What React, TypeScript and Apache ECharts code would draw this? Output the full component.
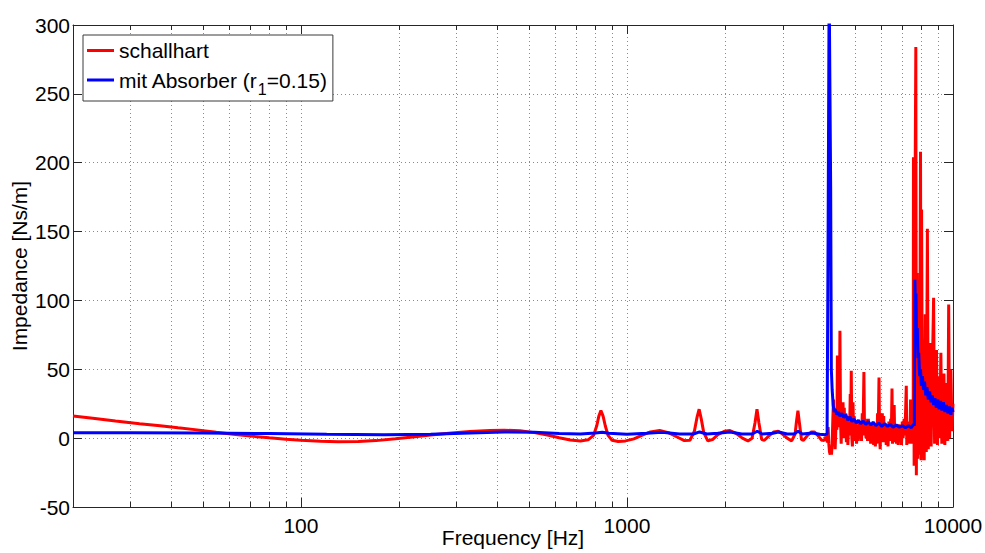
import React, { useEffect, useRef } from "react";
import * as echarts from "echarts";

// ---------- data (frequency in Hz, impedance in Ns/m) ----------
const redLow: [number, number][] = [
  [20, 16], [23, 14.5], [27, 12.5], [32, 10.5], [37, 9], [42, 7.5], [48, 6], [55, 4.2], [62, 2.8], [70, 1.5],
  [80, 0.2], [90, -0.8], [100, -1.5], [115, -2.2], [130, -2.6], [150, -2.5], [170, -1.8], [195, -0.5], [220, 0.8],
  [250, 2.3], [290, 3.8], [330, 4.8], [380, 5.5], [420, 5.8], [470, 5.3], [520, 4], [570, 2.3], [620, 0.3],
  [670, -1.3], [720, -2], [760, -1.2], [790, 2], [808, 9], [820, 16], [832, 20], [845, 16], [858, 9], [875, 2],
  [900, -1.5], [940, -2.5], [990, -2], [1050, -0.5], [1110, 2], [1180, 4.5], [1260, 5.5], [1340, 4], [1420, 1],
  [1500, -1.8], [1560, -1.5], [1610, 5], [1640, 15], [1665, 21], [1690, 14], [1720, 4], [1770, -2], [1830, -1],
  [1900, 2.5], [1990, 5], [2070, 5.5], [2160, 3.5], [2260, 0], [2350, -2], [2420, 0], [2470, 11], [2505, 21],
  [2540, 11], [2590, -1], [2640, -1.5], [2720, 1.5], [2820, 4.5], [2910, 5], [3000, 3], [3100, 0], [3200, -2],
  [3280, 3], [3310, 12], [3345, 20], [3380, 11], [3430, -1], [3480, -1.5], [3580, 2], [3680, 4.5], [3760, 4.5],
  [3850, 2], [3950, -1.5], [4030, -1.5], [4080, 1],
];
const redMid: [number, number][] = [
  [4120, -3], [4140, 8], [4160, -4], [4180, -10], [4200, -12], [4220, -6], [4240, -12], [4260, -4], [4280, 14],
  [4300, 28], [4315, 2], [4330, 15], [4350, -8], [4370, 5], [4390, 22], [4405, 6], [4420, 60], [4440, 10],
  [4460, 30], [4480, 8], [4500, 78], [4520, 12], [4540, -4], [4560, 20], [4580, 0], [4600, 26], [4620, 4],
  [4640, 22], [4660, 0], [4690, 18], [4710, -3], [4730, 12], [4760, -5], [4790, 16], [4815, 2], [4840, 32],
  [4860, 10], [4875, 49], [4895, 0], [4915, -6], [4935, 26], [4955, 5], [4975, 16], [5000, -2], [5030, 12],
  [5060, -4], [5090, 8], [5120, -2], [5150, 12], [5180, 0], [5210, 6], [5240, -2], [5270, 18], [5300, 6],
  [5330, 48], [5355, 2], [5380, 14], [5410, 0], [5440, 10], [5470, -2], [5500, 14], [5530, 2], [5560, 10],
  [5590, -4], [5620, 8], [5650, -2], [5680, 12], [5710, -5], [5745, 6], [5780, -6], [5810, 10], [5840, -4],
  [5870, 18], [5900, 8], [5930, 44], [5955, 0], [5980, -8], [6010, 12], [6040, -3], [6070, 18], [6100, 2],
  [6130, 16], [6160, -3], [6200, 10], [6240, -5], [6280, 8], [6320, -6], [6360, 12], [6400, -2], [6440, 14],
  [6470, 4], [6500, 36], [6525, -4], [6560, 12], [6600, 24], [6630, -3], [6670, 10], [6710, -4], [6750, 8],
  [6790, -5], [6830, 10], [6870, -3], [6910, 8], [6950, -5], [6990, 12], [7030, 0], [7080, 14], [7120, 2],
  [7160, 22], [7190, 38], [7215, -5], [7250, 12], [7290, -3], [7330, 10], [7370, -4], [7410, 28], [7440, 2],
  [7470, 20], [7500, -4], [7530, 26], [7550, 5],
];
const redHigh: [number, number][] = [
  [7564, 204], [7600, -20], [7640, 150], [7691, 284], [7720, -27], [7760, 120], [7800, -15], [7850, 90],
  [7900, -12], [7950, 208], [7985, -16], [8010, 166], [8060, -14], [8110, 70], [8160, -16], [8220, 90],
  [8280, -10], [8345, 152], [8400, -8], [8450, 50], [8520, 69], [8570, -6], [8630, 40], [8720, 102], [8780, -4],
  [8840, 35], [8900, 64], [8960, -5], [9030, 45], [9100, 0], [9180, 62], [9240, -4], [9300, 30], [9380, 47],
  [9440, -5], [9520, 40], [9580, 20], [9640, -2], [9700, 97], [9760, 0], [9850, 50], [9930, 5], [10000, 25],
];

const blueLow: [number, number][] = [
  [20, 4], [30, 3.9], [50, 3.7], [80, 3.3], [120, 2.8], [180, 2.5], [250, 2.8], [330, 3.8], [420, 4.5],
  [520, 4.2], [620, 3.3], [720, 3], [800, 3.8], [840, 4.3], [880, 3.5], [1000, 2.8], [1150, 3.5], [1280, 4.2],
  [1450, 3], [1600, 3], [1670, 4.5], [1760, 3], [1900, 3.5], [2070, 4.5], [2250, 3], [2420, 3], [2510, 5],
  [2600, 3], [2800, 3.5], [2920, 4.5], [3100, 3], [3250, 3], [3350, 5], [3450, 3], [3700, 3.8], [3900, 2.8],
  [4050, 2.5], [4110, 3],
];
const blueMid: [number, number][] = [
  [4140, 152], [4170, 330], [4215, 182], [4235, 50], [4260, 35], [4290, 24], [4320, 19], [4360, 21], [4400, 17],
  [4450, 19], [4500, 16], [4560, 18], [4620, 15], [4690, 17], [4760, 13], [4830, 15.5], [4900, 12], [4970, 14],
  [5050, 11], [5130, 13], [5210, 10.5], [5300, 12.5], [5400, 10], [5500, 12], [5600, 9.5], [5700, 11.5],
  [5800, 9], [5920, 11], [6050, 8.5], [6170, 10.5], [6300, 8.5], [6420, 10], [6550, 8], [6700, 9.5], [6850, 8],
  [7000, 9], [7150, 7.5], [7300, 9], [7450, 7.5], [7560, 10], [7610, 9],
];
const blueHigh: [number, number][] = [
  [7640, 115], [7670, 95], [7700, 105], [7730, 75], [7770, 80], [7810, 58], [7850, 62], [7900, 45], [7950, 50],
  [8000, 38], [8060, 45], [8120, 35], [8180, 41], [8250, 31], [8320, 37], [8400, 28], [8480, 34], [8560, 26],
  [8640, 31], [8720, 24], [8800, 29], [8890, 22], [8980, 28], [9070, 21], [9160, 27], [9250, 20], [9350, 26],
  [9450, 19], [9550, 24], [9650, 18], [9750, 23], [9850, 17], [9930, 22], [10000, 19],
];

const minorFreqs: number[] = [
  30, 40, 50, 60, 70, 80, 90,
  200, 300, 400, 500, 600, 700, 800, 900,
  2000, 3000, 4000, 5000, 6000, 7000, 8000, 9000,
];
const xTickLabels: number[] = [100, 1000, 10000];

const RED_NAME = "schallhart";
const BLUE_NAME = "mit Absorber (r1=0.15)";
const FONT = "Liberation Sans, Arial, Helvetica, sans-serif";
const FS = 21;
const FRAME = "#262626";
const GRID = "#8a8a8a";

export default function App() {
  const ref = useRef<HTMLDivElement>(null);

  useEffect(() => {
    if (!ref.current) return;
    const chart = echarts.init(ref.current, undefined, { renderer: "svg" });

    const redData = [...redLow, ...redMid, ...redHigh];
    const blueData = [...blueLow, ...blueMid, ...blueHigh];

    const isMajorLabel = (v: number) =>
      xTickLabels.some((t) => Math.abs(Math.log10(v) - Math.log10(t)) < 1e-6);

    chart.setOption({
      animation: false,
      backgroundColor: "#ffffff",
      textStyle: { fontFamily: FONT },
      grid: { left: 73, right: 32, top: 25, bottom: 46, containLabel: false, outerBoundsMode: "none" },
      legend: {
        data: [RED_NAME, BLUE_NAME],
        orient: "vertical",
        left: 83,
        top: 35,
        padding: [4, 6, 4, 4],
        itemGap: 1,
        itemWidth: 27,
        itemHeight: 3,
        icon: "rect",
        backgroundColor: "#ffffff",
        borderColor: "#3a3a3a",
        borderWidth: 1,
        borderRadius: 0,
        selectedMode: false,
        formatter: (name: string) => (name === BLUE_NAME ? "mit Absorber (r{sub|1}=0.15)" : name),
        textStyle: {
          fontFamily: FONT,
          fontSize: FS,
          lineHeight: 23,
          color: "#000",
          rich: {
            sub: { fontFamily: FONT, fontSize: 16, lineHeight: 16, padding: [18, 0, 0, 0], color: "#000" },
          },
        },
      },
      xAxis: [
        {
          type: "log",
          logBase: 10,
          min: 20,
          max: 10000,
          position: "bottom",
          name: "Frequency [Hz]",
          nameLocation: "middle",
          nameGap: 20,
          nameMoveOverlap: false,
          nameTextStyle: { fontFamily: FONT, fontSize: FS, color: "#000" },
          axisLine: { onZero: false, lineStyle: { color: FRAME, width: 1 } },
          axisTick: { inside: true, length: 9, lineStyle: { color: FRAME } },
          axisLabel: {
            fontFamily: FONT,
            fontSize: FS,
            color: "#000",
            margin: 8,
            showMinLabel: false,
            formatter: (v: number) => (isMajorLabel(v) ? String(Math.round(v)) : ""),
          },
          splitLine: { show: true, lineStyle: { color: GRID, type: [1, 3], width: 1 } },
          minorTick: { show: false },
        },
        {
          type: "log",
          logBase: 10,
          min: 20,
          max: 10000,
          position: "top",
          axisLine: { onZero: false, lineStyle: { color: FRAME, width: 1 } },
          axisTick: { inside: true, length: 9, lineStyle: { color: FRAME } },
          axisLabel: { show: false },
          splitLine: { show: false },
        },
      ],
      yAxis: [
        {
          type: "value",
          min: -50,
          max: 300,
          interval: 50,
          position: "left",
          name: "Impedance [Ns/m]",
          nameLocation: "middle",
          nameGap: 43,
          nameMoveOverlap: false,
          nameTextStyle: { fontFamily: FONT, fontSize: FS, color: "#000" },
          axisLine: { show: true, onZero: false, lineStyle: { color: FRAME, width: 1 } },
          axisTick: { show: true, inside: true, length: 9, lineStyle: { color: FRAME } },
          axisLabel: { fontFamily: FONT, fontSize: FS, color: "#000", margin: 3 },
          splitLine: { show: true, lineStyle: { color: GRID, type: [1, 3], width: 1 } },
        },
        {
          type: "value",
          min: -50,
          max: 300,
          interval: 50,
          position: "right",
          axisLine: { show: true, onZero: false, lineStyle: { color: FRAME, width: 1 } },
          axisTick: { show: true, inside: true, length: 9, lineStyle: { color: FRAME } },
          axisLabel: { show: false },
          splitLine: { show: false },
        },
      ],
      series: [
        {
          type: "custom",
          name: "minor",
          silent: true,
          z: 1,
          xAxisIndex: 0,
          yAxisIndex: 0,
          data: minorFreqs.map((f) => [f, 0]),
          encode: { x: 0, y: 1 },
          renderItem: (params: any, api: any) => {
            const p = api.coord([api.value(0), 0]);
            const cs = params.coordSys;
            const x = Math.round(p[0]) + 0.5;
            const top = cs.y;
            const bottom = cs.y + cs.height;
            return {
              type: "group",
              children: [
                { type: "line", shape: { x1: x, y1: top, x2: x, y2: bottom }, style: { stroke: GRID, lineWidth: 1, lineDash: [1, 3] } },
                { type: "line", shape: { x1: x, y1: bottom, x2: x, y2: bottom - 5 }, style: { stroke: FRAME, lineWidth: 1 } },
                { type: "line", shape: { x1: x, y1: top, x2: x, y2: top + 5 }, style: { stroke: FRAME, lineWidth: 1 } },
              ],
            };
          },
        },
        {
          type: "line",
          name: RED_NAME,
          data: redData,
          symbol: "none",
          showSymbol: false,
          clip: true,
          z: 3,
          color: "#ff0000",
          lineStyle: { color: "#ff0000", width: 3 },
        },
        {
          type: "line",
          name: BLUE_NAME,
          data: blueData,
          symbol: "none",
          showSymbol: false,
          clip: true,
          z: 4,
          color: "#0000ff",
          lineStyle: { color: "#0000ff", width: 3 },
        },
      ],
    });

    return () => chart.dispose();
  }, []);

  return (
    <div
      ref={ref}
      style={{ position: "fixed", left: 0, top: 0, width: 985, height: 553, background: "#fff" }}
    />
  );
}
